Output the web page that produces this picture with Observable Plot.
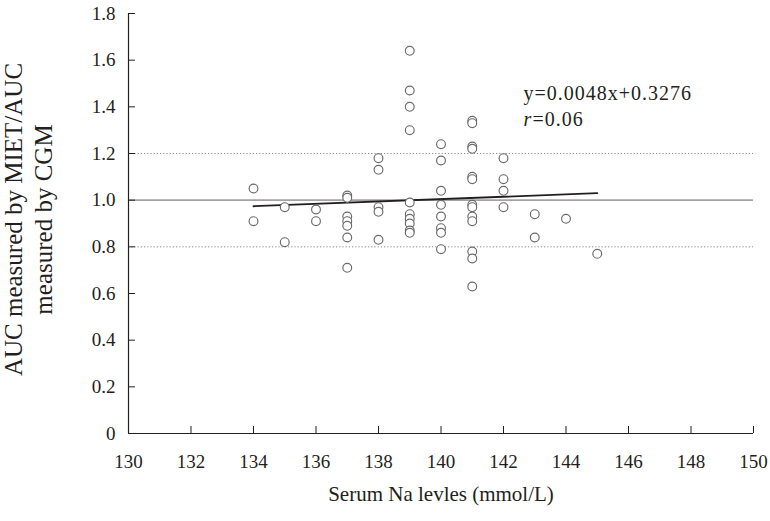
<!DOCTYPE html>
<html><head><meta charset="utf-8">
<script src="https://cdn.jsdelivr.net/npm/d3@7"></script>
<script src="https://cdn.jsdelivr.net/npm/@observablehq/plot@0.6"></script>
<style>
body{margin:0;background:#fff}
svg{display:block}
</style>
</head><body><div id="chart"></div>
<script>
// Serum Na (mmol/L) of each patient and the matching AUC ratio
const sodium = [
  134,134,
  135,135,
  136,136,
  137,137,137,137,137,137,137,
  138,138,138,138,138,
  139,139,139,139,139,139,139,139,139,139,
  140,140,140,140,140,140,140,140,
  141,141,141,141,141,141,141,141,141,141,141,141,141,
  142,142,142,142,
  143,143,
  144,
  145
];
const ratio = [
  1.05,0.91,
  0.97,0.82,
  0.96,0.91,
  1.02,1.01,0.93,0.91,0.89,0.84,0.71,
  1.18,1.13,0.97,0.95,0.83,
  1.64,1.47,1.40,1.30,0.99,0.94,0.92,0.90,0.87,0.86,
  1.24,1.17,1.04,0.98,0.93,0.88,0.86,0.79,
  1.34,1.33,1.23,1.22,1.10,1.09,0.98,0.97,0.93,0.91,0.78,0.75,0.63,
  1.18,1.09,1.04,0.97,
  0.94,0.84,
  0.92,
  0.77
];
// regression line end points
const fitSodium = [134, 145];
const fitRatio = [0.974, 1.030];
const xTicks = [130,132,134,136,138,140,142,144,146,148,150];
const yTicks = [0,0.2,0.4,0.6,0.8,1.0,1.2,1.4,1.6,1.8];
const limitLines = [0.8, 1.2];
const identityLine = [1.0];
const xTitle = "Serum Na levles (mmol/L)";
const yTitleLines = ["AUC measured by MIET/AUC", "measured by CGM"];
const equationText = "y=0.0048x+0.3276";
const rSymbol = "r";
const rValueText = "=0.06";

const points = sodium.map((s, i) => ({sodium: s, ratio: ratio[i]}));
const fit = fitSodium.map((s, i) => ({sodium: s, ratio: fitRatio[i]}));

const font = "'Liberation Serif', 'DejaVu Serif', serif";

const chart = Plot.plot({
  width: 770,
  height: 521,
  marginLeft: 128,
  marginRight: 17,
  marginTop: 13,
  marginBottom: 88,
  style: {fontFamily: font, fontSize: "19px", color: "#231f20", background: "#fff"},
  x: {domain: [130, 150]},
  y: {domain: [0, 1.8]},
  marks: [
    Plot.ruleY(limitLines, {stroke: "#8a8a8a", strokeWidth: 1, strokeDasharray: "1.2,2"}),
    Plot.ruleY(identityLine, {stroke: "#a3a3a3", strokeWidth: 1.6}),
    Plot.ruleX([130], {stroke: "#231f20", strokeWidth: 1.2}),
    Plot.ruleY([0], {stroke: "#231f20", strokeWidth: 1.2}),
    Plot.axisX({ticks: xTicks, tickSize: -7, tickPadding: 28, tickFormat: d => String(d), label: null, stroke: "#231f20", fill: "#231f20", fontSize: 19, fontVariant: "normal", fontFamily: font}),
    Plot.axisY({ticks: yTicks, tickSize: -7, tickPadding: 20, tickFormat: d => d === 0 ? "0" : d.toFixed(1), label: null, stroke: "#231f20", fill: "#231f20", fontSize: 19, fontVariant: "normal", fontFamily: font}),
    Plot.line(fit, {x: "sodium", y: "ratio", stroke: "#231f20", strokeWidth: 1.8}),
    Plot.dot(points, {x: "sodium", y: "ratio", r: 4.4, stroke: "#6a6a6a", strokeWidth: 1.15, fill: "#fff"}),
    Plot.text([equationText], {x: 142.64, y: 1.457, text: d => d, textAnchor: "start", lineAnchor: "middle", fontSize: 20, fill: "#231f20"}),
    Plot.text([rSymbol], {x: 142.64, y: 1.344, text: d => d, textAnchor: "start", lineAnchor: "middle", fontSize: 20, fontStyle: "italic", fill: "#231f20"}),
    Plot.text([rValueText], {x: 142.64, y: 1.344, dx: 9, text: d => d, textAnchor: "start", lineAnchor: "middle", fontSize: 20, fill: "#231f20"}),
    Plot.text([xTitle], {frameAnchor: "bottom", dy: 67, text: d => d, textAnchor: "middle", fontSize: 21, fill: "#231f20"}),
    Plot.text([yTitleLines[0]], {frameAnchor: "left", dx: -115, dy: -4, rotate: -90, text: d => d, textAnchor: "middle", lineAnchor: "middle", fontSize: 25, fill: "#231f20"}),
    Plot.text([yTitleLines[1]], {frameAnchor: "left", dx: -85, dy: -4, rotate: -90, text: d => d, textAnchor: "middle", lineAnchor: "middle", fontSize: 25, fill: "#231f20"})
  ]
});
document.getElementById("chart").appendChild(chart);
// make sure every text uses the serif face; annotation letter spacing like the original typesetting
chart.querySelectorAll("text, g").forEach(t => {
  t.style.fontFamily = font;
  t.style.fontVariantNumeric = "normal";
});
chart.querySelectorAll("text").forEach(t => {
  if (t.textContent === equationText || t.textContent === rValueText) t.setAttribute("letter-spacing", "1");
});
</script>
</body></html>
